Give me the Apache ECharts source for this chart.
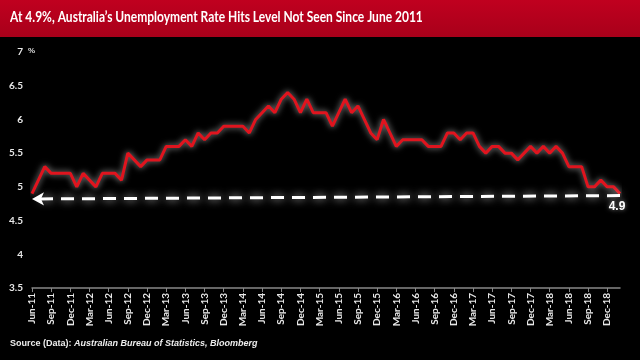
<!DOCTYPE html>
<html>
<head>
<meta charset="utf-8">
<script src="https://cdn.jsdelivr.net/npm/echarts@6/dist/echarts.min.js"></script>
<style>
html,body{margin:0;padding:0;background:#000;}
#c{width:640px;height:360px;}
</style>
</head>
<body>
<div id="c"></div>
<script>
var categories = [
"Jun-11","Jul-11","Aug-11","Sep-11","Oct-11","Nov-11","Dec-11",
"Jan-12","Feb-12","Mar-12","Apr-12","May-12","Jun-12","Jul-12","Aug-12","Sep-12","Oct-12","Nov-12","Dec-12",
"Jan-13","Feb-13","Mar-13","Apr-13","May-13","Jun-13","Jul-13","Aug-13","Sep-13","Oct-13","Nov-13","Dec-13",
"Jan-14","Feb-14","Mar-14","Apr-14","May-14","Jun-14","Jul-14","Aug-14","Sep-14","Oct-14","Nov-14","Dec-14",
"Jan-15","Feb-15","Mar-15","Apr-15","May-15","Jun-15","Jul-15","Aug-15","Sep-15","Oct-15","Nov-15","Dec-15",
"Jan-16","Feb-16","Mar-16","Apr-16","May-16","Jun-16","Jul-16","Aug-16","Sep-16","Oct-16","Nov-16","Dec-16",
"Jan-17","Feb-17","Mar-17","Apr-17","May-17","Jun-17","Jul-17","Aug-17","Sep-17","Oct-17","Nov-17","Dec-17",
"Jan-18","Feb-18","Mar-18","Apr-18","May-18","Jun-18","Jul-18","Aug-18","Sep-18","Oct-18","Nov-18","Dec-18",
"Jan-19","Feb-19"
];
var unemploymentRate = [
4.9,5.1,5.3,5.2,5.2,5.2,5.2,
5.0,5.2,5.1,5.0,5.2,5.2,5.2,5.1,5.5,5.4,5.3,5.4,
5.4,5.4,5.6,5.6,5.6,5.7,5.6,5.8,5.7,5.8,5.8,5.9,
5.9,5.9,5.9,5.8,6.0,6.1,6.2,6.1,6.3,6.4,6.3,6.1,
6.3,6.1,6.1,6.1,5.9,6.1,6.3,6.1,6.2,6.0,5.8,5.7,
6.0,5.8,5.6,5.7,5.7,5.7,5.7,5.6,5.6,5.6,5.8,5.8,
5.7,5.8,5.8,5.6,5.5,5.6,5.6,5.5,5.5,5.4,5.5,5.6,
5.5,5.6,5.5,5.6,5.5,5.3,5.3,5.3,5.0,5.0,5.1,5.0,
5.0,4.9
];
var arrowStart = ["Feb-19", 4.87];
var arrowEnd = ["Jun-11", 4.82];
var lastLabel = "4.9";
var titleText = "At 4.9%, Australia\u2019s Unemployment Rate Hits Level Not Seen Since June 2011";

var chart = echarts.init(document.getElementById('c'), null, {renderer:'canvas'});
var option = {
  backgroundColor: '#000',
  animation: false,
  graphic: [
    {type:'rect', x:0, y:0, shape:{width:640, height:37},
     style:{fill:new echarts.graphic.LinearGradient(0,0,0,1,[{offset:0,color:'#c0001f'},{offset:1,color:'#a8001a'}])}},
    {type:'text', x:10, y:10, scaleX:0.8, scaleY:1,
     style:{text:titleText, fill:'#fff', font:'bold 15px Lato, sans-serif', textVerticalAlign:'top', textAlign:'left'}},
    {type:'text', x:28, y:47, style:{text:'%', fill:'#ddd', font:'bold 8px "Liberation Sans", sans-serif'}},
    {type:'text', x:10, y:339,
     style:{text:'{a|Source (Data): }{b|Australian Bureau of Statistics, Bloomberg}',
       rich:{a:{fill:'#eee', font:'bold 9px "Liberation Sans", sans-serif'},
             b:{fill:'#eee', font:'italic bold 9px "Liberation Sans", sans-serif'}}}}
  ],
  grid: {left:32, right:20, top:52, bottom:72},
  xAxis: {
    type:'category', data:categories, boundaryGap:false,
    axisLine:{lineStyle:{color:'#888', width:1.5}},
    axisTick:{interval:2, length:4, lineStyle:{color:'#888'}},
    axisLabel:{interval:2, rotate:90, color:'#e8e8e8', fontSize:10, fontWeight:'bold',
      fontFamily:'Lato, sans-serif', margin:5},
    splitLine:{show:false}
  },
  yAxis: {
    type:'value', min:3.5, max:7, interval:0.5,
    axisLine:{show:false}, axisTick:{show:false}, splitLine:{show:false},
    axisLabel:{color:'#e8e8e8', fontSize:10, fontWeight:'bold', margin:9,
      fontFamily:'Lato, sans-serif'}
  },
  series: [{
    type:'line', data:unemploymentRate, symbol:'none',
    lineStyle:{color:'#e0141e', width:3, shadowColor:'rgba(210,210,210,0.75)', shadowBlur:6},
    markLine:{
      silent:true,
      symbol:['none','arrow'], symbolSize:[10,12],
      label:{show:false},
      lineStyle:{color:'#fff', width:3, type:[13,8], shadowColor:'rgba(255,255,255,0.8)', shadowBlur:8},
      data:[[{coord:arrowStart},{coord:arrowEnd}]]
    },
    markPoint:{
      symbol:'circle', symbolSize:0,
      label:{show:true, formatter:lastLabel, color:'#fff', fontSize:12, fontWeight:'bold',
        fontFamily:'"Liberation Sans", sans-serif', offset:[-3,13],
        textShadowColor:'rgba(180,180,180,0.8)', textShadowBlur:4},
      data:[{coord:["Feb-19", 4.9]}]
    }
  }]
};
chart.setOption(option);
</script>
</body>
</html>
